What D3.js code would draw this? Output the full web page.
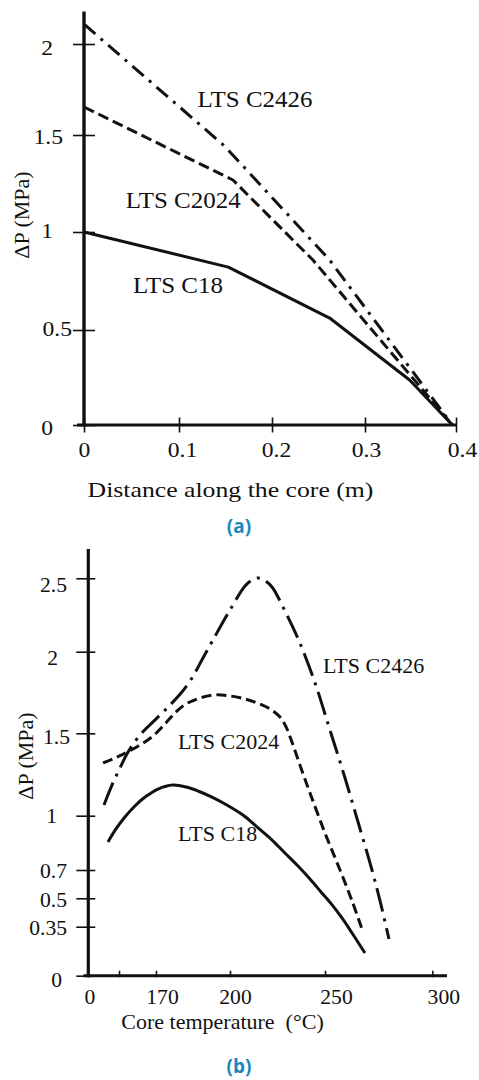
<!DOCTYPE html>
<html><head><meta charset="utf-8">
<script src="https://cdn.jsdelivr.net/npm/d3@7"></script>
<style>
body{margin:0;background:#fff;}
svg{display:block;}
text{font-family:"Liberation Serif","Times New Roman",serif;fill:#111;}
.cap{font-family:"Open Sans",sans-serif;font-weight:700;fill:#1a88bb;}
</style></head><body>
<svg id="c" width="479" height="1080"></svg>
<script>
// ---------------- DATA ----------------
const seriesNames = ["LTS C2426", "LTS C2024", "LTS C18"];

// Panel (a): pressure drop vs distance along the core
const aTicksX = [0, 0.1, 0.2, 0.3, 0.4];
const aTickLabelsX = ["0", "0.1", "0.2", "0.3", "0.4"];
const aTicksY = [0, 0.5, 1, 1.5, 2];
const aTickLabelsY = ["0", "0.5", "1", "1.5", "2"];
const aC2426 = [[0, 2.11], [0.149, 1.443], [0.262, 0.857], [0.396, 0]];
const aC2024 = [[0, 1.654], [0.158, 1.268], [0.244, 0.857], [0.396, 0]];
const aC18   = [[0, 1.0], [0.153, 0.821], [0.262, 0.561], [0.349, 0.237], [0.396, 0]];
const aLabelAnchors = [[0.120, 1.654], [0.044, 1.124], [0.0516, 0.689]];

// Panel (b): pressure drop vs core temperature
const bTicksX = [0, 150, 170, 200, 250, 300];
const bTickLabelsX = ["0", "", "170", "200", "250", "300"];
const bTicksY = [0, 0.35, 0.5, 0.7, 1, 1.5, 2, 2.5];
const bTickLabelsY = ["0", "0.35", "0.5", "0.7", "1", "1.5", "2", "2.5"];
const bC2426 = [[142.1,1.065],[146.3,1.186],[150.5,1.289],[154.9,1.387],[161.4,1.490],[169.5,1.582],
  [175.7,1.673],[180.5,1.753],[184.6,1.839],[188.6,1.949],[193.1,2.080],[200,2.284],[207.9,2.448],
  [211.6,2.488],[214.7,2.502],[217.9,2.488],[222.1,2.441],[227.9,2.304],[236.8,2.059],[245.3,1.790],
  [252.3,1.520],[258.9,1.247],[265.4,0.965],[271.9,0.700],[276.1,0.465],[279.8,0.262]];
const bC2024 = [[141.6,1.320],[148.9,1.356],[158.6,1.411],[167.8,1.478],[173.6,1.557],[178.1,1.631],
  [182.2,1.680],[187.8,1.716],[193.9,1.735],[200,1.729],[207.9,1.710],[214.2,1.686],[221.1,1.649],
  [226.3,1.600],[229.5,1.539],[232.6,1.447],[236.8,1.308],[242.1,1.138],[250,0.904],[257.0,0.700],
  [262.6,0.486],[267.7,0.312]];
const bC18 = [[144.2,0.855],[148.4,0.927],[153.2,0.993],[158.6,1.059],[164.1,1.113],[170.8,1.162],
  [176.9,1.186],[182.2,1.174],[187.0,1.150],[192.7,1.113],[198.0,1.071],[206.8,1.004],[214.2,0.938],
  [221.6,0.871],[228.9,0.794],[235.8,0.722],[242.1,0.636],[247.9,0.545],[253.3,0.465],[257.9,0.396],
  [262.6,0.305],[268.6,0.162]];
const bLabelAnchors = [[248.9, 1.869], [178.9, 1.405], [178.9, 0.860]];

// ---------------- STYLE / LAYOUT ----------------
const INK = "#111";
const svg = d3.select("#c");

function stretchText(sel, x, y, sx) {
  sel.attr("x", null).attr("y", null).attr("dy", null)
     .attr("transform", `translate(${x},${y}) scale(${sx},1)`);
}

// ---- Panel (a) ----
const xA = d3.scaleLinear().domain([0, 0.1, 0.2, 0.3, 0.4]).range([84, 179, 272, 365, 456]);
const yA = d3.scaleLinear().domain([0, 0.5, 1, 1.5, 2, 2.18]).range([425, 330, 232, 135, 44, 11.5]);
const gA = svg.append("g");

const lineA = d3.line().x(d => xA(d[0])).y(d => yA(d[1]));
const aSeries = [aC2426, aC2024, aC18];
const aDash = ["15,7,3,7", "11,5", null];
aSeries.forEach((s, i) => {
  gA.append("path").attr("d", lineA(s)).attr("fill", "none").attr("stroke", INK)
    .attr("stroke-width", 3).attr("stroke-dasharray", aDash[i]).attr("stroke-linejoin", "round");
});

// axes (a)
const aYdx = {"0": -31, "0.5": -12, "1": -31, "1.5": -21, "2": -31};
const aYdy = {"0": 3, "0.5": -1.5, "1": -1, "1.5": 1.7, "2": 4};
const axYA = gA.append("g").attr("transform", `translate(${xA(0)},0)`)
  .call(d3.axisLeft(yA).tickValues(aTicksY).tickSize(0).tickFormat((d, i) => aTickLabelsY[i]));
axYA.select(".domain").remove();
axYA.selectAll(".tick line").attr("x1", -11).attr("x2", 11).attr("stroke", INK).attr("stroke-width", 1.6);
axYA.selectAll(".tick text").attr("font-size", 20).attr("font-family", null).attr("fill", INK)
  .attr("text-anchor", "end")
  .each(function(d, i) {
    const k = aTickLabelsY[i];
    stretchText(d3.select(this), aYdx[k], aYdy[k] + 6.8, 1.18);
  });

const aXdx = [0, 3, 4, 1, 6];
const axXA = gA.append("g").attr("transform", `translate(0,${yA(0)})`)
  .call(d3.axisBottom(xA).tickValues(aTicksX).tickSize(0).tickFormat((d, i) => aTickLabelsX[i]));
axXA.select(".domain").remove();
axXA.selectAll(".tick line").attr("y1", -7.5).attr("y2", 7.5).attr("stroke", INK).attr("stroke-width", 1.6);
axXA.selectAll(".tick text").attr("font-size", 20).attr("font-family", null).attr("fill", INK)
  .attr("text-anchor", "middle")
  .each(function(d, i) { stretchText(d3.select(this), aXdx[i], 32, 1.18); });

gA.append("line").attr("x1", xA(0)).attr("x2", xA(0)).attr("y1", yA(2.18)).attr("y2", yA(0) + 1.5)
  .attr("stroke", INK).attr("stroke-width", 3.4);
gA.append("line").attr("x1", xA(0) - 7).attr("x2", xA(0.4)).attr("y1", yA(0)).attr("y2", yA(0))
  .attr("stroke", INK).attr("stroke-width", 3);

// titles (a)
gA.append("text").text("Distance along the core (m)").attr("font-size", 22).attr("text-anchor", "middle")
  .call(s => stretchText(s, 230.5, 497, 1.17));
gA.append("text").text("ΔP (MPa)").attr("font-size", 22).attr("text-anchor", "middle")
  .attr("transform", "translate(29,215) rotate(-90)");
seriesNames.forEach((n, i) => {
  gA.append("text").text(n).attr("font-size", 24)
    .call(s => stretchText(s, xA(aLabelAnchors[i][0]), yA(aLabelAnchors[i][1]), 1.04));
});
svg.append("text").attr("class", "cap").text("(a)").attr("font-size", 19)
  .attr("text-anchor", "middle").attr("x", 239).attr("y", 533);

// ---- Panel (b) ----
const xB = d3.scaleLinear().domain([0, 140, 150, 170, 200, 250, 300, 307])
  .range([88.3, 100, 119, 156, 230, 325, 432.3, 447]);
const yB = d3.scaleLinear().domain([0, 0.35, 0.5, 0.7, 1, 1.5, 2, 2.5, 2.7])
  .range([975.7, 926.7, 898.3, 870, 815.7, 733.3, 651.7, 578.3, 549]);
const gB = svg.append("g");

const lineB = d3.line().x(d => xB(d[0])).y(d => yB(d[1])).curve(d3.curveCatmullRom.alpha(0.5));
const bSeries = [bC2426, bC2024, bC18];
const bDash = ["24,7,3,7", "10,5", null];
bSeries.forEach((s, i) => {
  gB.append("path").attr("d", lineB(s)).attr("fill", "none").attr("stroke", INK)
    .attr("stroke-width", 3).attr("stroke-dasharray", bDash[i]).attr("stroke-linejoin", "round");
});

const bYdx = {"2.5": -21.3, "2": -30.3, "1.5": -18.3, "1": -31.3, "0.7": -21.3, "0.5": -21.3, "0.35": -21.3, "0": -26.3};
const bYdy = {"2.5": 6.5, "2": 6, "1.5": 3.5, "1": 0, "0.7": 1, "0.5": 1, "0.35": 1, "0": 4};
const axYB = gB.append("g").attr("transform", `translate(${xB(0)},0)`)
  .call(d3.axisLeft(yB).tickValues(bTicksY).tickSize(0).tickFormat((d, i) => bTickLabelsY[i]));
axYB.select(".domain").remove();
axYB.selectAll(".tick line").attr("x1", -12).attr("x2", 7).attr("stroke", INK).attr("stroke-width", 1.6);
axYB.selectAll(".tick text").attr("font-size", 20).attr("font-family", null).attr("fill", INK)
  .attr("text-anchor", "end")
  .each(function(d, i) {
    const k = bTickLabelsY[i];
    stretchText(d3.select(this), bYdx[k], bYdy[k] + 6.8, 1.08);
  });

const bXdx = [1, 0, 6, 5, 11, 11];
const axXB = gB.append("g").attr("transform", `translate(0,${yB(0)})`)
  .call(d3.axisBottom(xB).tickValues(bTicksX).tickSize(0).tickFormat((d, i) => bTickLabelsX[i]));
axXB.select(".domain").remove();
axXB.selectAll(".tick line").attr("y1", -5).attr("y2", 1.5).attr("stroke", INK).attr("stroke-width", 1.6);
axXB.selectAll(".tick text").attr("font-size", 20).attr("font-family", null).attr("fill", INK)
  .attr("text-anchor", "middle")
  .each(function(d, i) { stretchText(d3.select(this), bXdx[i], 28.5, 1.08); });

gB.append("line").attr("x1", xB(0)).attr("x2", xB(0)).attr("y1", yB(2.7)).attr("y2", yB(0) + 1.5)
  .attr("stroke", INK).attr("stroke-width", 3.2);
gB.append("line").attr("x1", xB(0) - 5).attr("x2", xB(307)).attr("y1", yB(0)).attr("y2", yB(0))
  .attr("stroke", INK).attr("stroke-width", 3);

gB.append("text").text("Core temperature  (°C)").attr("font-size", 22).attr("text-anchor", "middle")
  .attr("xml:space", "preserve").style("white-space", "pre")
  .attr("x", 222.5).attr("y", 1029);
gB.append("text").text("ΔP (MPa)").attr("font-size", 22).attr("text-anchor", "middle")
  .attr("transform", "translate(33,756) rotate(-90)");
seriesNames.forEach((n, i) => {
  gB.append("text").text(n).attr("font-size", 22)
    .attr("x", xB(bLabelAnchors[i][0])).attr("y", yB(bLabelAnchors[i][1]));
});
svg.append("text").attr("class", "cap").text("(b)").attr("font-size", 19)
  .attr("text-anchor", "middle").attr("x", 239).attr("y", 1073);
</script>
</body></html>
